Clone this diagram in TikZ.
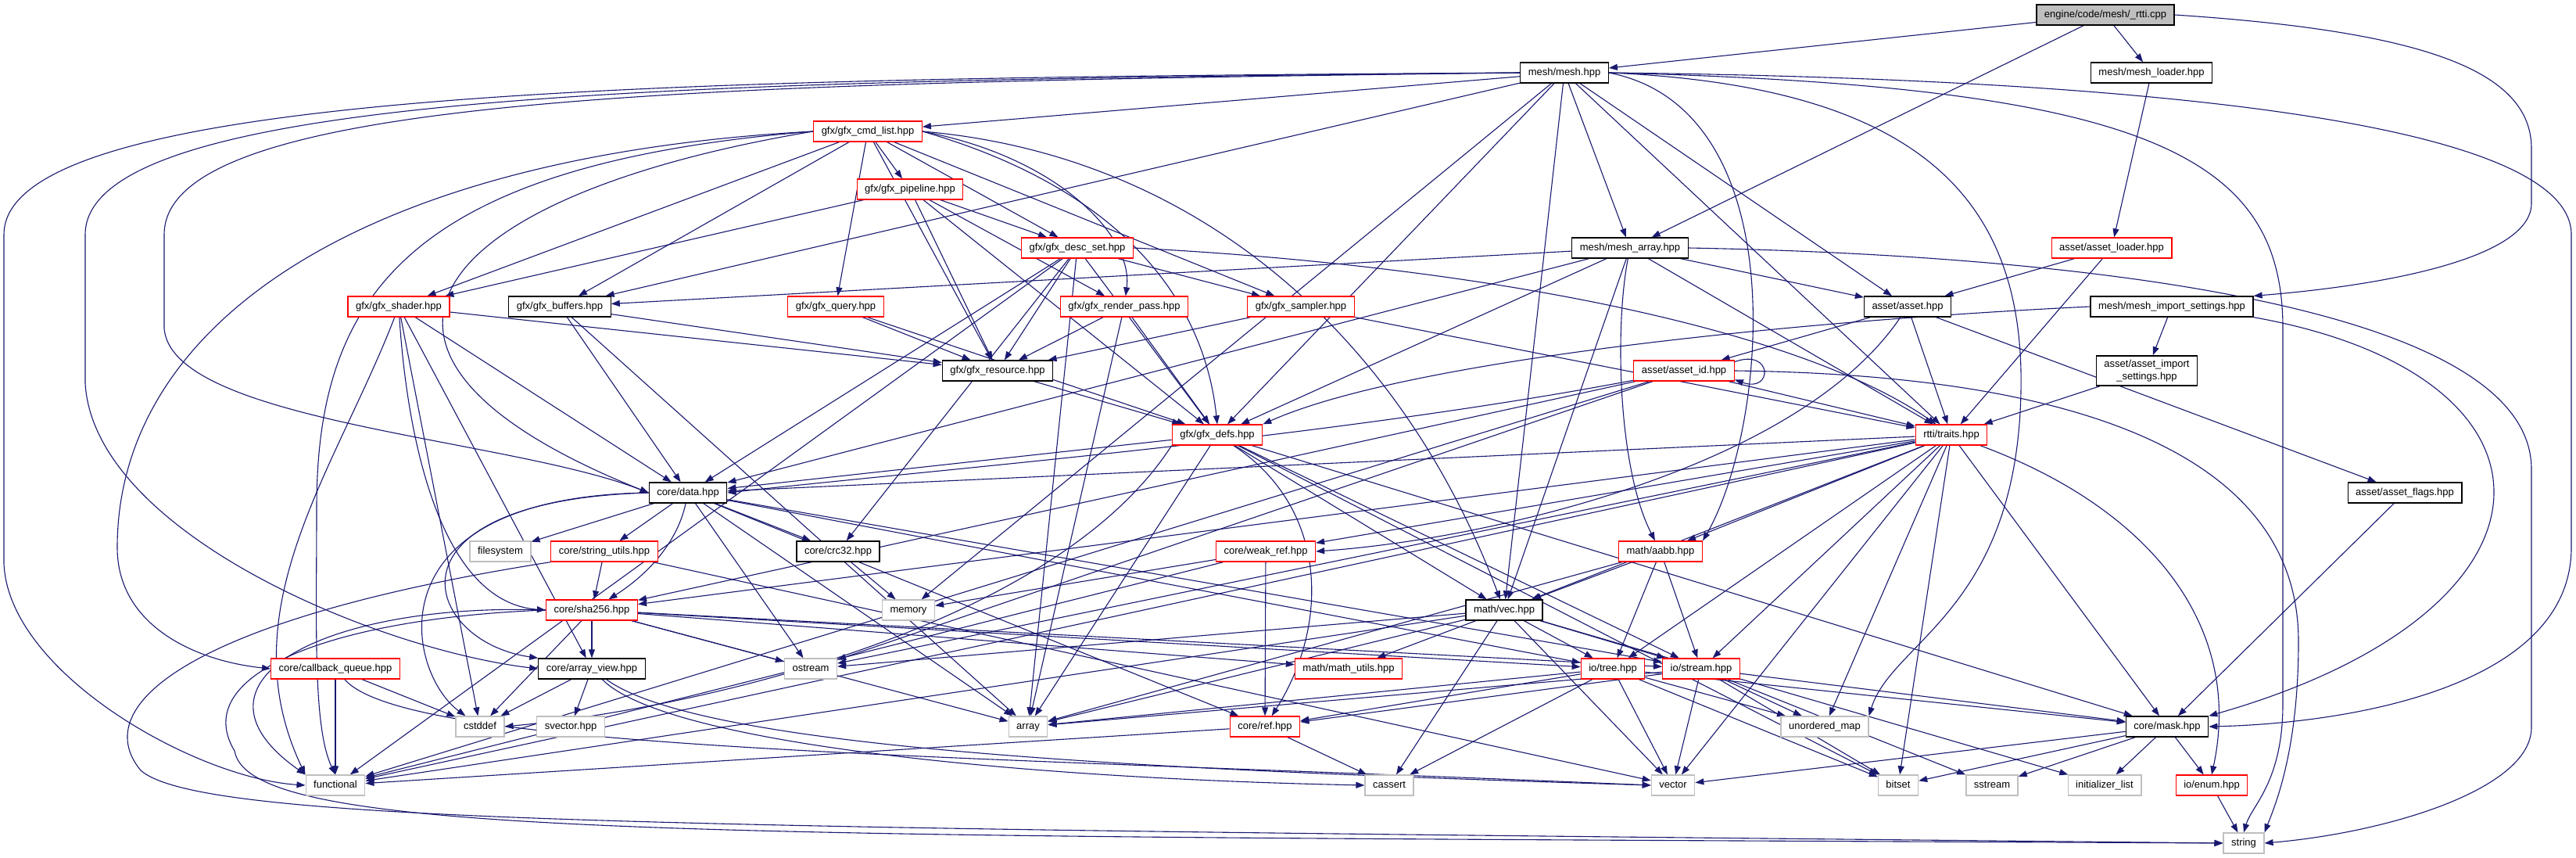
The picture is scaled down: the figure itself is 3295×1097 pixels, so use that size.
\documentclass[tikz,border=0pt]{standalone}
\usepackage{fontspec}
\setmainfont{Liberation Sans}
\usepackage{tikz}
\usetikzlibrary{arrows.meta, backgrounds}
\definecolor{edgeblue}{HTML}{191970}
\definecolor{extgrey}{HTML}{BFBFBF}
\definecolor{rootgrey}{HTML}{BFBFBF}
\definecolor{truncred}{HTML}{FF0000}

\begin{document}
\begin{tikzpicture}[x=1pt, y=-1pt, >={Triangle[length=11pt,width=8pt]},
    every edge/.style={draw=edgeblue, line width=1.1pt, ->},
    font=\fontsize{13}{16}\selectfont]
    \tikzstyle{hdrfile} = [rectangle, draw=black, fill=white, line width=1.3pt, minimum height=26pt, inner xsep=10pt, inner ysep=4pt, text height=9.4pt, text depth=2.7pt]
    \tikzstyle{truncfile} = [hdrfile, draw=truncred]
    \tikzstyle{sysfile} = [hdrfile, draw=extgrey]
    \tikzstyle{rootfile} = [hdrfile, fill=rootgrey]
    \tikzstyle{incl} = [draw=edgeblue, line width=1.1pt, ->]

    \useasboundingbox (0,0) rectangle (3295,1097);

    \node [rootfile] (rtti) at (2693,19) {engine/code/mesh/\_rtti.cpp};
    \node [hdrfile] (mesh) at (2001,93) {mesh/mesh.hpp};
    \node [hdrfile] (meshloader) at (2752,93) {mesh/mesh\_loader.hpp};
    \node [truncfile] (cmdlist) at (1110,168) {gfx/gfx\_cmd\_list.hpp};
    \node [truncfile] (pipeline) at (1164,242) {gfx/gfx\_pipeline.hpp};
    \node [truncfile] (descset) at (1378,317) {gfx/gfx\_desc\_set.hpp};
    \node [hdrfile] (mesharray) at (2085,317) {mesh/mesh\_array.hpp};
    \node [truncfile] (assetloader) at (2701,317) {asset/asset\_loader.hpp};
    \node [truncfile] (shader) at (510,392) {gfx/gfx\_shader.hpp};
    \node [hdrfile] (buffers) at (716,392) {gfx/gfx\_buffers.hpp};
    \node [truncfile] (query) at (1069,392) {gfx/gfx\_query.hpp};
    \node [truncfile] (renderpass) at (1438,392) {gfx/gfx\_render\_pass.hpp};
    \node [truncfile] (sampler) at (1664,392) {gfx/gfx\_sampler.hpp};
    \node [hdrfile] (asset) at (2440,392) {asset/asset.hpp};
    \node [hdrfile] (meshimport) at (2778,392) {mesh/mesh\_import\_settings.hpp};
    \node [hdrfile] (resource) at (1276,474) {gfx/gfx\_resource.hpp};
    \node [truncfile] (assetid) at (2154,474) {asset/asset\_id.hpp};
    \node [rectangle, draw=black, fill=white, line width=1.3pt, align=center, inner xsep=10pt, inner ysep=5pt] (assetimport) at (2746,474) {asset/asset\_import\\\_settings.hpp};
    \node [truncfile] (defs) at (1557,556) {gfx/gfx\_defs.hpp};
    \node [truncfile] (traits) at (2496,556) {rtti/traits.hpp};
    \node [hdrfile] (data) at (880,630) {core/data.hpp};
    \node [hdrfile] (assetflags) at (3076,630) {asset/asset\_flags.hpp};
    \node [sysfile] (filesystem) at (640,705) {filesystem};
    \node [truncfile] (stringutils) at (773,705) {core/string\_utils.hpp};
    \node [hdrfile] (crc32) at (1072,705) {core/crc32.hpp};
    \node [truncfile] (weakref) at (1619,705) {core/weak\_ref.hpp};
    \node [truncfile] (aabb) at (2124,705) {math/aabb.hpp};
    \node [truncfile] (sha256) at (757,780) {core/sha256.hpp};
    \node [sysfile] (memory) at (1162,780) {memory};
    \node [hdrfile] (vec) at (1924,780) {math/vec.hpp};
    \node [truncfile] (callback) at (429,855) {core/callback\_queue.hpp};
    \node [hdrfile] (arrayview) at (757,855) {core/array\_view.hpp};
    \node [sysfile] (ostream) at (1037,855) {ostream};
    \node [truncfile] (mathutils) at (1725,855) {math/math\_utils.hpp};
    \node [truncfile] (tree) at (2063,855) {io/tree.hpp};
    \node [truncfile] (stream) at (2176,855) {io/stream.hpp};
    \node [sysfile] (cstddef) at (614,929) {cstddef};
    \node [sysfile] (svector) at (730,929) {svector.hpp};
    \node [sysfile] (array) at (1315,929) {array};
    \node [truncfile] (ref) at (1618,929) {core/ref.hpp};
    \node [sysfile] (unorderedmap) at (2334,929) {unordered\_map};
    \node [hdrfile] (mask) at (2772,929) {core/mask.hpp};
    \node [sysfile] (functional) at (429,1004) {functional};
    \node [sysfile] (cassert) at (1777,1004) {cassert};
    \node [sysfile] (vector) at (2140,1004) {vector};
    \node [sysfile] (bitset) at (2428,1004) {bitset};
    \node [sysfile] (sstream) at (2548,1004) {sstream};
    \node [sysfile] (initlist) at (2692,1004) {initializer\_list};
    \node [truncfile] (enum) at (2829,1004) {io/enum.hpp};
    \node [sysfile] (string) at (2870,1078) {string};

    \begin{scope}[on background layer]
    \fill [white] (0,0) rectangle (3295,1097);
    \path (rtti) edge (mesh) edge (meshloader) edge (mesharray);
    \draw [incl] (rtti.east) .. controls (3100,40) and (3238,90) .. (3238,190) -- (3238,260) .. controls (3238,330) and (3050,365) .. (meshimport.north east);
    \path (meshloader) edge (assetloader);
    \path (assetloader) edge (asset) edge (traits);
    \path (mesh) edge (cmdlist) edge (buffers) edge (memory) edge (defs) edge (vec) edge (mesharray) edge (asset) edge (traits);
    \draw [incl] (mesh.west) .. controls (900,100) and (5,110) .. (5,300) -- (5,720) .. controls (10,860) and (250,995) .. (functional.west);
    \draw [incl] (mesh.west) .. controls (900,103) and (109,115) .. (109,300) -- (109,490) .. controls (120,680) and (480,830) .. (arrayview.west);
    \draw [incl] (mesh.west) .. controls (900,106) and (210,120) .. (210,300) -- (210,420) .. controls (220,540) and (650,560) .. (data.west);
    \draw [incl] (mesh.east) .. controls (2700,100) and (3289,150) .. (3289,300) -- (3289,700) .. controls (3289,880) and (3000,925) .. (mask.east);
    \draw [incl] (mesh.east) .. controls (2750,110) and (2920,200) .. (2920,420) -- (2920,900) .. controls (2920,1000) and (2880,1030) .. (string.north);
    \draw [incl] (mesh.east) .. controls (2450,110) and (2590,250) .. (2585,500) .. controls (2580,780) and (2420,820) .. (unorderedmap.north east);
    \draw [incl] (mesh.east) .. controls (2300,140) and (2260,550) .. (aabb.north east);
    \path (cmdlist) edge (pipeline) edge (descset) edge (shader) edge (buffers) edge (query) edge (sampler) edge (resource);
    \draw [incl] (cmdlist.east) .. controls (1430,240) and (1540,380) .. (defs.north);
    \draw [incl] (cmdlist.east) .. controls (1550,200) and (1800,450) .. (vec);
    \draw [incl] (cmdlist.east) .. controls (1350,200) and (1450,300) .. (renderpass);
    \draw [incl] (cmdlist.west) .. controls (550,250) and (380,450) .. (data.west);
    \draw [incl] (cmdlist.west) .. controls (450,200) and (150,420) .. (150,700) .. controls (150,800) and (250,845) .. (callback.west);
    \draw [incl] (cmdlist.west) .. controls (520,210) and (405,380) .. (405,650) .. controls (405,800) and (400,930) .. (functional.north);
    \path (pipeline) edge (descset) edge (shader) edge (renderpass) edge (resource) edge (defs);
    \path (descset) edge (sampler) edge (resource) edge (defs) edge (functional) edge (array) edge (crc32) edge (data);
    \draw [incl] (descset.east) .. controls (1900,340) and (2300,420) .. (traits);
    \path (shader) edge (resource) edge (data) edge (cstddef) edge (arrayview);
    \draw [incl] (shader) .. controls (520,550) and (560,770) .. (sha256.west);
    \draw [incl] (shader) .. controls (430,600) and (290,780) .. (functional.north west);
    \path (buffers) edge (resource) edge (data) edge (array);
    \path (query) edge (resource) edge (defs);
    \path (renderpass) edge (resource) edge (defs) edge (array);
    \path (sampler) edge (resource) edge (traits);
    \path (resource) edge (defs);
    \path (defs) edge (data) edge (vec) edge (array) edge (stream) edge (bitset) edge (mask);
    \draw [incl] (defs) .. controls (1700,650) and (1700,800) .. (ref);
    \draw [incl] (defs.south west) .. controls (1350,800) and (900,905) .. (cstddef.east);
    \path (mesharray) edge (defs) edge (buffers) edge (data) edge (asset) edge (traits) edge (vec);
    \draw [incl] (mesharray) .. controls (2065,420) and (2070,600) .. (aabb);
    \draw [incl] (mesharray.east) .. controls (2600,325) and (3238,380) .. (3238,600) -- (3238,930) .. controls (3238,1010) and (3050,1065) .. (string.east);
    \path (asset) edge (assetid) edge (traits) edge (assetflags);
    \draw [incl] (asset) .. controls (2300,600) and (1900,690) .. (weakref.east);
    \path (meshimport) edge (assetimport);
    \draw [incl] (meshimport.west) .. controls (2300,410) and (1800,460) .. (defs.north east);
    \draw [incl] (meshimport.south east) .. controls (3300,480) and (3300,780) .. (mask.north east);
    \path (assetimport) edge (traits);
    \draw [incl] (assetid.10) .. controls (2268,445) and (2268,503) .. (assetid.-10);
    \path (assetid) edge (traits) edge (sha256) edge (ostream) edge (functional);
    \draw [incl] (assetid) .. controls (1700,560) and (1200,600) .. (data.east);
    \draw [incl] (assetid.east) .. controls (2700,480) and (2940,600) .. (2940,820) .. controls (2940,960) and (2910,1030) .. (string.north east);
    \path (traits) edge (data) edge (sha256) edge (weakref) edge (aabb) edge (vec) edge (tree) edge (stream) edge (unorderedmap) edge (vector) edge (bitset) edge (mask) edge (functional) edge (ostream);
    \draw [incl] (traits) .. controls (2750,650) and (2870,800) .. (enum.north);
    \path (assetflags) edge (mask);
    \path (data) edge (filesystem) edge (stringutils) edge (crc32) edge (ostream) edge (array) edge (tree) edge (stream) edge (ref);
    \draw [incl] (data.west) .. controls (480,640) and (540,820) .. (arrayview.north west);
    \draw [incl] (data.west) .. controls (470,635) and (520,860) .. (cstddef);
    \draw [incl] (data) .. controls (865,700) and (820,740) .. (sha256);
    \path (stringutils) edge (sha256) edge (vector);
    \draw [incl] (stringutils.south west) .. controls (250,790) and (110,900) .. (180,985) .. controls (260,1055) and (900,1058) .. (string.west);
    \draw [incl] (sha256.west) .. controls (430,790) and (240,860) .. (300,960) .. controls (320,1075) and (900,1068) .. (string.west);
    \path (crc32) edge (memory);
    \path (sha256) edge (arrayview) edge (cstddef) edge (ostream) edge (array) edge (tree) edge (stream) edge (mathutils);
    \draw [incl] (sha256.west) .. controls (420,770) and (220,870) .. (functional.north west);
    \path (arrayview) edge (cstddef) edge (svector);
    \draw [incl] (arrayview) .. controls (900,960) and (1500,985) .. (vector.west);
    \draw [incl] (arrayview) .. controls (850,950) and (1300,995) .. (cassert.west);
    \path (callback) edge (functional) edge (cstddef);
    \draw [incl] (callback) .. controls (520,960) and (1200,965) .. (vector.west);
    \path (weakref) edge (memory) edge (ref) edge (functional);
    \path (aabb) edge (vec) edge (tree) edge (stream) edge (array);
    \path (vec) edge (mathutils) edge (tree) edge (stream) edge (ostream) edge (array) edge (cassert) edge (functional) edge (vector) edge (initlist);
    \path (tree) edge (array) edge (ref) edge (vector) edge (cassert) edge (bitset) edge (unorderedmap) edge (mask);
    \path (stream) edge (array) edge (ref) edge (vector) edge (unorderedmap) edge (bitset) edge (sstream) edge (mask);
    \path (ref) edge (functional) edge (cassert);
    \path (mask) edge (vector) edge (bitset) edge (sstream) edge (initlist) edge (enum);
    \path (enum) edge (string);
    \end{scope}
\end{tikzpicture}
\end{document}
